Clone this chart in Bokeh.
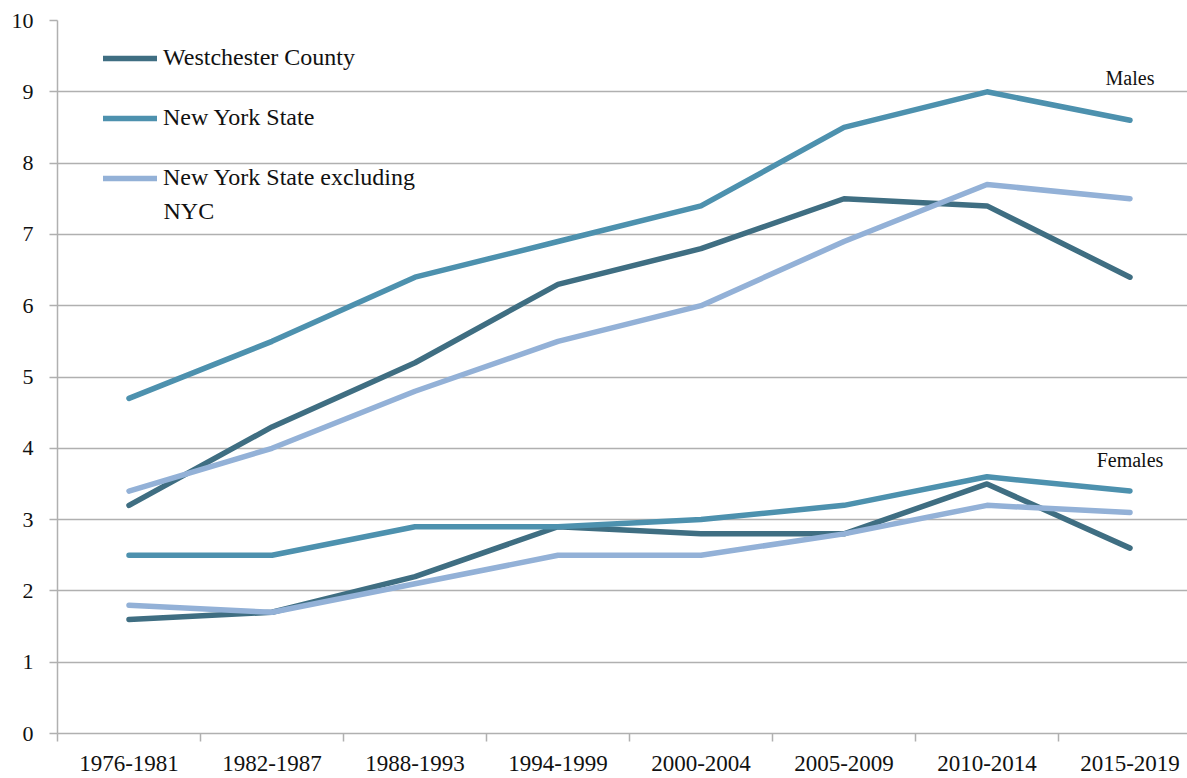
from bokeh.plotting import figure
from bokeh.models import (Range1d, FixedTicker, CustomJSTickFormatter, Legend,
                          LegendItem, Label)
from bokeh.embed import file_html
from bokeh.resources import INLINE

periods = ["1976-1981", "1982-1987", "1988-1993", "1994-1999",
           "2000-2004", "2005-2009", "2010-2014", "2015-2019"]

males_westchester = [3.2, 4.3, 5.2, 6.3, 6.8, 7.5, 7.4, 6.4]
males_nys = [4.7, 5.5, 6.4, 6.9, 7.4, 8.5, 9.0, 8.6]
males_nys_ex_nyc = [3.4, 4.0, 4.8, 5.5, 6.0, 6.9, 7.7, 7.5]

females_westchester = [1.6, 1.7, 2.2, 2.9, 2.8, 2.8, 3.5, 2.6]
females_nys = [2.5, 2.5, 2.9, 2.9, 3.0, 3.2, 3.6, 3.4]
females_nys_ex_nyc = [1.8, 1.7, 2.1, 2.5, 2.5, 2.8, 3.2, 3.1]

y_ticks = list(range(0, 11))

FONT = "Liberation Serif"
C_DARK = "#3F6E82"
C_MID = "#4D91AE"
C_LIGHT = "#93B1D7"
GRID = "#B0B0B0"

n = len(periods)
xs = [i + 0.5 for i in range(n)]

FRAME_H = 713
p = figure(width=1187, height=778, output_backend="svg", toolbar_location=None,
           x_range=Range1d(0, 1130 / 143.0), y_range=Range1d(0, 10),
           min_border_left=57, min_border_right=0, min_border_top=20,
           min_border_bottom=45)
p.outline_line_color = None
p.background_fill_color = "white"

# axes
p.xaxis.ticker = FixedTicker(ticks=xs, minor_ticks=list(range(n + 1)))
p.xaxis.formatter = CustomJSTickFormatter(args=dict(labels=periods),
                                          code="return labels[Math.floor(tick)];")
p.xaxis.major_tick_line_color = None
p.xaxis.major_tick_out = 0
p.xaxis.major_tick_in = 0
p.xaxis.minor_tick_line_color = GRID
p.xaxis.minor_tick_line_width = 1.5
p.xaxis.minor_tick_out = 8
p.xaxis.minor_tick_in = 0
p.xaxis.axis_line_color = GRID
p.xaxis.axis_line_width = 1.5
p.xaxis.major_label_text_font = FONT
p.xaxis.major_label_text_font_size = "23px"
p.xaxis.major_label_text_color = "#111111"
p.xaxis.major_label_standoff = 14

p.yaxis.ticker = FixedTicker(ticks=y_ticks)
p.yaxis.axis_line_color = GRID
p.yaxis.axis_line_width = 1.5
p.yaxis.major_tick_line_color = GRID
p.yaxis.major_tick_line_width = 1.5
p.yaxis.major_tick_out = 8
p.yaxis.major_tick_in = 0
p.yaxis.minor_tick_line_color = None
p.yaxis.major_label_text_font = FONT
p.yaxis.major_label_text_font_size = "22px"
p.yaxis.major_label_text_color = "#111111"
p.yaxis.major_label_standoff = 16

p.xgrid.grid_line_color = None
p.ygrid.ticker = FixedTicker(ticks=y_ticks)
p.ygrid.grid_line_color = GRID
p.ygrid.grid_line_width = 1.5

style = dict(line_width=5.5, line_cap="round", line_join="round")
r1 = p.line(xs, males_westchester, color=C_DARK, **style)
r2 = p.line(xs, males_nys, color=C_MID, **style)
r3 = p.line(xs, males_nys_ex_nyc, color=C_LIGHT, **style)
p.line(xs, females_westchester, color=C_DARK, **style)
p.line(xs, females_nys, color=C_MID, **style)
p.line(xs, females_nys_ex_nyc, color=C_LIGHT, **style)

legend = Legend(items=[
    LegendItem(label="Westchester County", renderers=[r1]),
    LegendItem(label="New York State", renderers=[r2]),
    LegendItem(label="New York State excluding", renderers=[r3]),
], location=(46, FRAME_H - 171), padding=0, margin=0, spacing=33,
    glyph_width=54, glyph_height=20, label_height=20, label_standoff=6,
    label_text_font=FONT, label_text_font_size="24px",
    label_text_color="#111111",
    border_line_alpha=0, background_fill_alpha=0)
p.add_layout(legend, "center")

p.add_layout(Label(x=106, y=FRAME_H - 190, x_units="screen", y_units="screen",
                   text="NYC", text_font=FONT, text_font_size="24px",
                   text_color="#111111", text_baseline="middle"))

p.add_layout(Label(x=xs[-1], y=9.2, text="Males", text_font=FONT,
                   text_font_size="20px", text_color="#111111",
                   text_align="center", text_baseline="middle"))
p.add_layout(Label(x=xs[-1], y=3.84, text="Females", text_font=FONT,
                   text_font_size="20px", text_color="#111111",
                   text_align="center", text_baseline="middle"))

open("out.html", "w").write(file_html(p, INLINE))
